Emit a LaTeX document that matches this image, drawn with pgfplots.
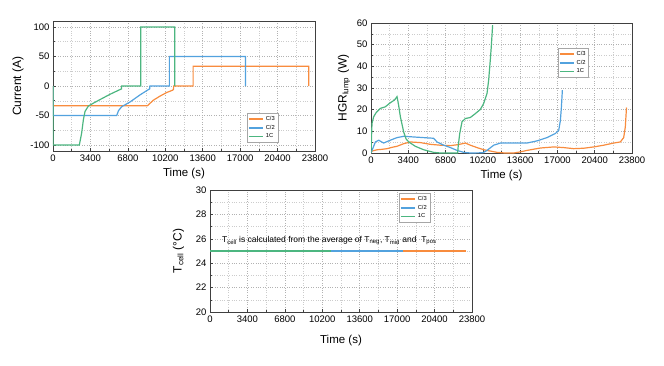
\documentclass[border=0pt]{standalone}
\usepackage{fontspec}
\setmainfont{Liberation Sans}
\usepackage{pgfplots}
\pgfplotsset{compat=1.18}
\definecolor{cOr}{RGB}{248,140,62}
\definecolor{cBl}{RGB}{82,162,222}
\definecolor{cGr}{RGB}{76,182,128}
\pgfplotsset{
 base/.style={
  scale only axis, xmin=0, xmax=23800, xtick={0,3400,...,23800}, minor x tick num=1,
  scaled x ticks=false, scaled y ticks=false,
  /pgf/number format/1000 sep={}, /pgf/number format/assume math mode=true,
  grid=both,
  major grid style={dotted, black!30, line width=0.5pt},
  minor grid style={dotted, black!20, line width=0.5pt},
  axis line style={draw=black!75, line width=0.9pt},
  tick align=inside, tick pos=left, major tick length=3pt, minor tick length=1.8pt,
  every tick/.style={black!75, line width=0.6pt},
  ticklabel style={font=\fontsize{9.5}{10}\selectfont},
  xlabel={Time (s)}, xlabel style={font=\fontsize{11.5}{12}\selectfont},
  ylabel style={font=\fontsize{12}{13}\selectfont},
  legend style={font=\fontsize{5.8}{6}\selectfont, draw=gray!70, line width=0.5pt, inner sep=1pt, row sep=-1pt, cells={anchor=west}},
  legend image code/.code={\draw[#1, line width=1.7pt] (0pt,0pt) -- (14pt,0pt);},
  every axis plot/.append style={line width=1.2pt},
 }}
\begin{document}
\begin{tikzpicture}
\useasboundingbox (0,0) rectangle (664pt,365pt);
% Panel 1: current
\begin{axis}[base, at={(53pt,214pt)}, anchor=south west, width=262pt, height=130pt,
  ymin=-110, ymax=110, ytick={-100,-50,0,50,100}, minor y tick num=1,
  ylabel={Current (A)},
  legend style={at={(0.859,0.292)}, anchor=north east}]
\addplot[cOr] coordinates {(0,0)(0,-33.3)(8580,-33.3)(9120,-24)(9730,-17)(10330,-11)(10880,-7)(10950,-5.5)(10960,0)(12730,0)(12730,33.3)(23240,33.3)(23240,0)};
\addplot[cBl] coordinates {(0,0)(0,-50)(5790,-50)(5940,-42)(6240,-35)(7000,-27)(7910,-15)(8670,-6)(8780,-5)(8800,0)(10570,0)(10570,50)(17480,50)(17480,0)};
\addplot[cGr] coordinates {(0,0)(0,-100)(2390,-100)(2600,-80)(2760,-57)(2910,-43)(3210,-34)(3670,-29)(4270,-23)(5180,-14)(6090,-6)(6220,-5)(6240,0)(7970,0)(7970,100)(11060,100)(11060,0)};
\legend{C/3,C/2,1C}
\end{axis}
% Panel 2: HGR
\begin{axis}[base, at={(371pt,212pt)}, anchor=south west, width=261pt, height=130pt,
  ymin=0, ymax=60, ytick={0,10,...,60}, minor y tick num=1,
  ylabel={HGR\textsubscript{lump} (W)},
  legend style={at={(0.835,0.808)}, anchor=north east}]
\addplot[cOr] coordinates {(0,0)(90,0.9)(550,1.5)(1000,1.7)(1460,2)(1900,2.6)(2370,3.1)(2980,4.3)(3590,5.1)(4500,4.8)(5410,4)(6320,3.6)(7240,3.4)(7990,3.9)(8600,4.6)(9060,3.6)(9670,2.5)(10280,1.5)(10880,0.9)(11490,0.3)(12200,0)(13010,0)(13600,0.5)(14230,1.2)(15440,2.3)(16660,2.8)(17570,2.5)(18480,2)(19390,2.2)(20310,2.8)(21220,3.6)(22130,4.6)(22740,5.1)(23040,7.1)(23190,12)(23250,17)(23300,21)};
\addplot[cBl] coordinates {(0,0)(90,1.2)(400,5.1)(700,5.9)(1150,4.6)(1760,5.9)(2370,7.1)(2980,7.7)(3890,7.4)(4800,7.1)(5710,6.8)(6020,5.1)(6630,3.6)(7240,2.5)(7840,1.2)(8450,0.3)(9060,0)(10200,0.1)(10580,1.2)(11190,3.6)(11800,4.6)(13010,4.6)(14230,4.6)(15140,5.6)(16050,7.1)(16810,9)(17120,10.5)(17270,15)(17360,21)(17450,29)};
\addplot[cGr] coordinates {(0,0)(90,13.6)(240,16.7)(450,18.5)(850,20.6)(1300,21.3)(1760,23.2)(2130,24.4)(2300,25.5)(2370,26)(2450,24)(2520,22)(2680,16.7)(2980,9.7)(3200,6.5)(3440,5.1)(4040,3.1)(4800,1.5)(5710,0.3)(6320,0)(7900,0)(7950,3)(8090,9)(8300,14.4)(8600,15.9)(9060,16.4)(9520,18.2)(9970,20.1)(10280,22.9)(10580,27.5)(10730,33.7)(10880,43)(10970,49.2)(11090,59)};
\legend{C/3,C/2,1C}
\end{axis}
% Panel 3: Tcell
\begin{axis}[base, at={(210pt,53pt)}, anchor=south west, width=262pt, height=122pt,
  ymin=20, ymax=30, ytick={20,22,...,30}, minor y tick num=1,
  ylabel={T\textsubscript{cell} (°C)},
  ylabel style={yshift=5pt},
  xlabel style={yshift=-6pt},
  legend style={at={(0.84,0.975)}, anchor=north east}]
\addplot[cOr] coordinates {(0,25)(23300,25)};
\addplot[cBl] coordinates {(0,25)(17500,25)};
\addplot[cGr] coordinates {(0,25)(11000,25)};
\legend{C/3,C/2,1C}
\node[anchor=west, font=\fontsize{8.5}{10}\selectfont, inner sep=0pt] at (axis cs:1090,25.85) {T\textsubscript{cell} is calculated from the average of T\textsubscript{neg}, T\textsubscript{mid} and \ T\textsubscript{pos}};
\end{axis}
\end{tikzpicture}
\end{document}
